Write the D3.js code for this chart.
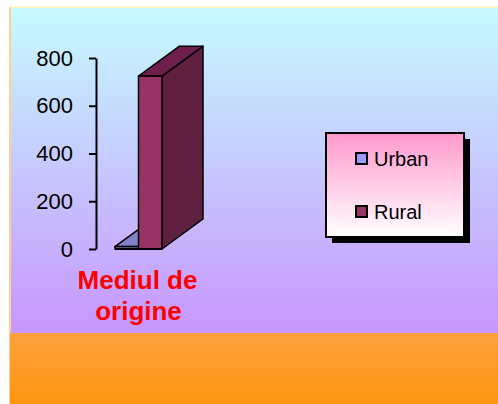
<!DOCTYPE html>
<html>
<head>
<meta charset="utf-8">
<script src="https://cdn.jsdelivr.net/npm/d3@7"></script>
<style>
  body { margin: 0; background: #fff; }
  text { font-family: "Liberation Sans", Arial, sans-serif; }
</style>
</head>
<body>
<script>
// chart data
var categories = ["Mediul de origine"];
var series = ["Urban", "Rural"];
var values = [10, 724];
var seriesColors = ["#9999ff", "#993366"];
var tickValues = [0, 200, 400, 600, 800];

var w = 498, h = 404;

var svg = d3.select("body")
    .append("svg")
    .attr("width", w)
    .attr("height", h);

var defs = svg.append("defs");

//slide background gradients
var bg = defs.append("linearGradient")
    .attr("id", "bg")
    .attr("x1", 0).attr("y1", 0).attr("x2", 0).attr("y2", 1);
bg.append("stop").attr("offset", "0%").attr("stop-color", "#c6fbff");
bg.append("stop").attr("offset", "50%").attr("stop-color", "#c6c8fd");
bg.append("stop").attr("offset", "100%").attr("stop-color", "#c896fe");

var band = defs.append("linearGradient")
    .attr("id", "band")
    .attr("x1", 0).attr("y1", 0).attr("x2", 0).attr("y2", 1);
band.append("stop").attr("offset", "0%").attr("stop-color", "#fda13f");
band.append("stop").attr("offset", "100%").attr("stop-color", "#ff960f");

var leg = defs.append("linearGradient")
    .attr("id", "leg")
    .attr("x1", 0).attr("y1", 0).attr("x2", 0).attr("y2", 1);
leg.append("stop").attr("offset", "0%").attr("stop-color", "#ff99cc");
leg.append("stop").attr("offset", "100%").attr("stop-color", "#ffffff");

svg.append("rect")
    .attr("x", 10).attr("y", 7)
    .attr("width", w - 10).attr("height", 326)
    .style("fill", "url(#bg)");
svg.append("line")
    .attr("x1", 10).attr("x2", w).attr("y1", 7).attr("y2", 7)
    .style("stroke", "#fff6c8").style("stroke-width", 2);
svg.append("line")
    .attr("x1", 10).attr("x2", 10).attr("y1", 7).attr("y2", h)
    .style("stroke", "#ffd090").style("stroke-width", 2);
svg.append("rect")
    .attr("x", 10).attr("y", 333)
    .attr("width", w - 10).attr("height", h - 333)
    .style("fill", "url(#band)");

//scales
var y = d3.scaleLinear()
    .domain([0, 800])
    .range([249, 58]);

var x0 = d3.scaleBand()
    .domain(categories)
    .range([115, 162]);

var x1 = d3.scaleBand()
    .domain(series)
    .range([0, x0.bandwidth()]);

var color = d3.scaleOrdinal()
    .domain(series)
    .range(seriesColors);

//3d depth offset
var dx = 41, dy = 30;

var faceColors = {
    Urban: { front: "#8080c4", top: "#8282ca", side: "#6a6aa8" },
    Rural: { front: "#973264", top: "#6f1f4b", side: "#5f1f3f" }
};

//bars
var barData = series.map(function(s, i){
    return { key: s, value: values[i], cat: categories[0] };
});

var bars = svg.selectAll(".bar")
    .data(barData)
    .enter()
    .append("g")
    .attr("class", "bar");

bars.append("path")
    .attr("class", "side")
    .attr("d", function(d){
        var xr = x0(d.cat) + x1(d.key) + x1.bandwidth();
        var yt = y(d.value), yb = y(0);
        return "M" + xr + "," + yb + "L" + (xr + dx) + "," + (yb - dy) +
            "L" + (xr + dx) + "," + (yt - dy) + "L" + xr + "," + yt + "Z";
    })
    .style("fill", function(d){ return faceColors[d.key].side; })
    .style("stroke", "#000")
    .style("stroke-width", 1.5)
    .style("stroke-linejoin", "round");

bars.append("path")
    .attr("class", "top")
    .attr("d", function(d){
        var xl = x0(d.cat) + x1(d.key);
        var xr = xl + x1.bandwidth();
        var yt = y(d.value);
        return "M" + xl + "," + yt + "L" + (xl + dx) + "," + (yt - dy) +
            "L" + (xr + dx) + "," + (yt - dy) + "L" + xr + "," + yt + "Z";
    })
    .style("fill", function(d){ return faceColors[d.key].top; })
    .style("stroke", "#000")
    .style("stroke-width", 1.5)
    .style("stroke-linejoin", "round");

bars.append("rect")
    .attr("class", "front")
    .attr("x", function(d){ return x0(d.cat) + x1(d.key); })
    .attr("y", function(d){ return y(d.value); })
    .attr("width", x1.bandwidth())
    .attr("height", function(d){ return y(0) - y(d.value); })
    .style("fill", function(d){ return faceColors[d.key].front; })
    .style("stroke", "#000")
    .style("stroke-width", 1.5);

//floor edge
svg.append("line")
    .attr("x1", x0.range()[0]).attr("x2", x0.range()[1])
    .attr("y1", y(0)).attr("y2", y(0))
    .style("stroke", "#000").style("stroke-width", 2);

//y axis
var yAxis = d3.axisLeft(y)
    .tickValues(tickValues)
    .tickSize(7)
    .tickSizeOuter(0)
    .tickPadding(16);

var axis = svg.append("g")
    .attr("class", "axis")
    .attr("transform", "translate(96,0)")
    .call(yAxis);

axis.select(".domain").style("stroke", "#000").style("stroke-width", 2);
axis.selectAll(".tick line").style("stroke", "#000").style("stroke-width", 2);
axis.selectAll(".tick text")
    .style("font-family", "'Liberation Sans', Arial, sans-serif")
    .style("font-size", "22px")
    .style("fill", "#000");

//category label, two lines
var catLabel = svg.selectAll(".catLabel")
    .data(categories)
    .enter()
    .append("text")
    .attr("class", "catLabel")
    .attr("text-anchor", "middle")
    .style("font-size", "26px")
    .style("font-weight", "bold")
    .style("fill", "#ff0000");

catLabel.append("tspan")
    .attr("x", function(d){ return x0(d) + x0.bandwidth() / 2 - 1; })
    .attr("y", 289)
    .text("Mediul de");
catLabel.append("tspan")
    .attr("x", function(d){ return x0(d) + x0.bandwidth() / 2; })
    .attr("y", 320)
    .text("origine");

//legend
var legend = svg.append("g")
    .attr("class", "legend")
    .attr("transform", "translate(326,133)");

legend.append("rect")
    .attr("x", 6).attr("y", 6)
    .attr("width", 138).attr("height", 104)
    .style("fill", "#000");
legend.append("rect")
    .attr("width", 138).attr("height", 104)
    .style("fill", "url(#leg)")
    .style("stroke", "#000")
    .style("stroke-width", 2);

var items = legend.selectAll(".item")
    .data(series)
    .enter()
    .append("g")
    .attr("class", "item")
    .attr("transform", function(d, i){
        return "translate(30," + (20 + i * 53) + ")";
    });

items.append("rect")
    .attr("width", 11).attr("height", 11)
    .style("fill", function(d){ return color(d); })
    .style("stroke", "#000")
    .style("stroke-width", 2);

items.append("text")
    .attr("x", 18)
    .attr("y", 13)
    .style("font-size", "20px")
    .style("fill", "#000")
    .text(function(d){ return d; });
</script>
</body>
</html>
